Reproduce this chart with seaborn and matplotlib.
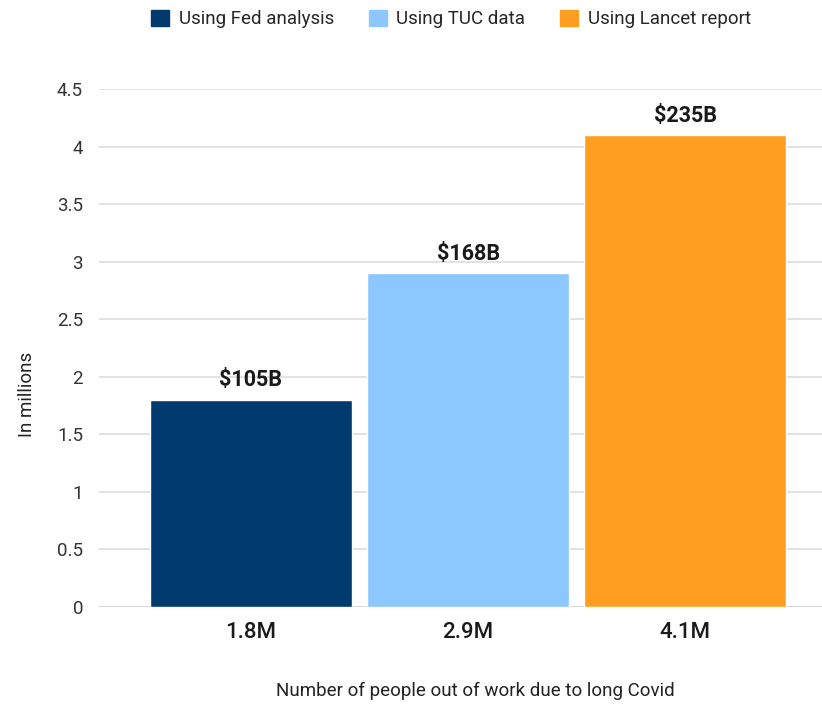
import pandas as pd
import matplotlib
matplotlib.use("Agg")
import matplotlib.pyplot as plt
import seaborn as sns

# values
people_out = ["1.8M", "2.9M", "4.1M"]
sources = ["Using Fed analysis", "Using TUC data", "Using Lancet report"]
millions = [1.8, 2.9, 4.1]
cost_labels = ["$105B", "$168B", "$235B"]
colors = ["#003A6E", "#8DC7FF", "#FF9E1F"]

df = pd.DataFrame({"people": people_out, "source": sources, "value": millions})

sns.set_theme(style="white")
plt.rcParams["font.family"] = ["Roboto", "DejaVu Sans"]

fig = plt.figure(figsize=(8.22, 7.07), dpi=100)
ax = fig.add_axes([99 / 822, 100 / 707, 723 / 822, 518 / 707])

sns.barplot(data=df, x="people", y="value", hue="source", palette=colors,
            dodge=False, width=0.93, saturation=1, legend=False, ax=ax)

for cont, lab in zip(ax.containers, cost_labels):
    ax.bar_label(cont, labels=[lab], padding=6, fontsize=15.5, fontweight="bold",
                 color="#1a1a1a")

ax.set_xlim(-0.70, 2.63)
ax.set_ylim(0, 4.5)
ax.set_yticks([i * 0.5 for i in range(10)])
ax.set_yticklabels(["%g" % (i * 0.5) for i in range(10)], fontsize=13.5, color="#333333")
ax.tick_params(axis="y", length=0, pad=11.5)
ax.tick_params(axis="x", length=0, pad=11, labelsize=16, labelcolor="#1a1a1a")
for t in ax.get_xticklabels():
    t.set_fontweight("medium")

ax.grid(axis="y", color="#dadada", linewidth=1.1)
ax.set_axisbelow(True)
for s in ax.spines.values():
    s.set_visible(False)
ax.axhline(0, color="#cccccc", linewidth=1.3, zorder=0.5)

ax.set_ylabel("In millions", fontsize=13.5, color="#222222")
ax.yaxis.set_label_coords(-0.087, 0.41)
ax.set_xlabel("Number of people out of work due to long Covid", fontsize=13.5, color="#222222")
ax.xaxis.set_label_coords(0.521, -0.145)

handles = [plt.Rectangle((0, 0), 1, 1, color=c) for c in colors]
fig.legend(handles, sources, loc="center", bbox_to_anchor=(451 / 822, 1 - 19 / 707),
           ncol=3, frameon=False, fontsize=13.5, handlelength=0.96, handleheight=0.96,
           columnspacing=1.87, handletextpad=0.5)

fig.savefig("out.png", dpi=100)
